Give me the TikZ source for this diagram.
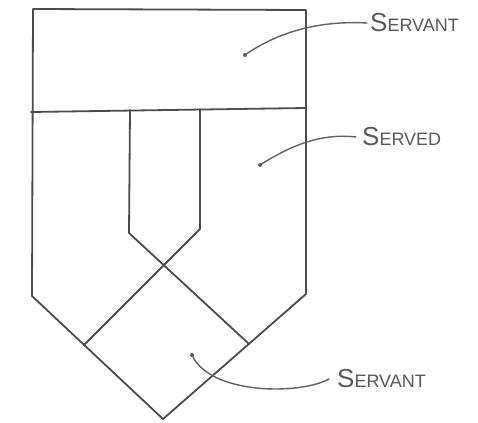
\documentclass[tikz,border=0pt]{standalone}
\usepackage{fontspec}
\setmainfont{Liberation Sans}
\begin{document}
\begin{tikzpicture}[x=1pt,y=-1pt,
  frame/.style={draw=black!70, line width=1.8pt, line join=round, line cap=round},
  leader/.style={draw=black!62, line width=1.4pt, line cap=round},
  dot/.style={fill=black!65, circle, inner sep=0pt, minimum size=4pt},
  lbl/.style={anchor=west, inner sep=0pt, text=black!65}]
\useasboundingbox (0,0) rectangle (478,422);
\fill[white] (0,0) rectangle (478,422);
% outer frame
\draw[frame] (33,9) -- (306,10) -- (306,294) -- (163,419) -- (32,296) -- cycle;
\draw[frame] (31,112) -- (306,108);
% inner crossing strips
\draw[frame] (130,110) -- (129,233) -- (249,344);
\draw[frame] (200,109) -- (200,229) -- (84,345);
% dots
\node[dot] (d1) at (245,55) {};
\node[dot] (d2) at (260,165) {};
\node[dot] (d3) at (192,355) {};
% labels
\node[lbl] (l1) at (370,23) {{\fontsize{26}{26}\selectfont S}{\fontsize{18}{18}\selectfont ERVANT}};
\node[lbl] (l2) at (362,137) {{\fontsize{26}{26}\selectfont S}{\fontsize{18}{18}\selectfont ERVED}};
\node[lbl] (l3) at (337,379) {{\fontsize{26}{26}\selectfont S}{\fontsize{18}{18}\selectfont ERVANT}};
% leaders
\draw[leader] (d1.center) .. controls (272,36) and (312,20) .. ([xshift=-3pt]l1.west);
\draw[leader] (d2.center) .. controls (290,146) and (320,133) .. ([xshift=-6pt]l2.west);
\draw[leader] (d3.center) .. controls (210,395) and (300,395) .. ([xshift=-8pt]l3.west);
\end{tikzpicture}
\end{document}
